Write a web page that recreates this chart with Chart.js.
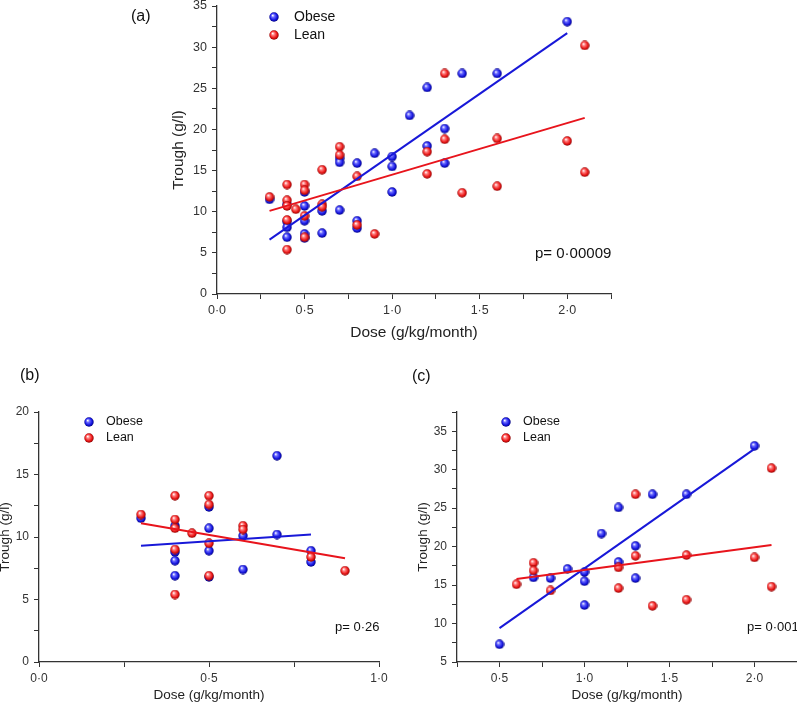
<!DOCTYPE html>
<html>
<head>
<meta charset="utf-8">
<script src="https://cdn.jsdelivr.net/npm/chart.js@4.4.1/dist/chart.umd.min.js"></script>
<style>
  html, body { margin: 0; padding: 0; background: #fff; overflow: hidden; width: 797px; height: 703px; }
  canvas { position: absolute; }
</style>
</head>
<body>
<canvas id="chartA" width="500" height="345" style="left:120px;top:0px"></canvas>
<canvas id="chartB" width="410" height="345" style="left:-10px;top:365px"></canvas>
<canvas id="chartC" width="410" height="345" style="left:400px;top:365px"></canvas>
<script>
// panel (b) - obese / lean, dose (g/kg/month) vs trough (g/l)
const bObeseDose   = [0.3, 0.4, 0.4, 0.4, 0.4, 0.5, 0.5, 0.5, 0.5, 0.6, 0.6, 0.7, 0.7, 0.8, 0.8];
const bObeseTrough = [11.5, 10.9, 8.8, 8.1, 6.9, 12.4, 10.7, 8.9, 6.8, 10.1, 7.4, 16.5, 10.2, 8.9, 8.0];
const bLeanDose    = [0.3, 0.4, 0.4, 0.4, 0.4, 0.4, 0.45, 0.5, 0.5, 0.5, 0.5, 0.6, 0.6, 0.8, 0.9];
const bLeanTrough  = [11.8, 13.3, 11.4, 10.7, 9.0, 5.4, 10.3, 13.3, 12.6, 9.5, 6.9, 10.9, 10.6, 8.4, 7.3];

// panel (c)
const cObeseDose   = [0.5, 0.7, 0.8, 0.9, 1.0, 1.0, 1.0, 1.1, 1.2, 1.2, 1.3, 1.3, 1.4, 1.6, 2.0];
const cObeseTrough = [7.3, 16.0, 15.9, 17.1, 16.7, 15.5, 12.4, 21.7, 25.1, 18.0, 20.1, 15.9, 26.8, 26.8, 33.1];
const cLeanDose    = [0.6, 0.7, 0.7, 0.8, 1.2, 1.2, 1.3, 1.3, 1.4, 1.6, 1.6, 2.0, 2.1, 2.1];
const cLeanTrough  = [15.1, 17.9, 16.9, 14.3, 17.3, 14.6, 26.8, 18.8, 12.3, 18.9, 13.1, 18.6, 30.2, 14.8];

// fitted lines, end points [dose, trough]
const aObeseFit = [[0.3, 6.6], [2.0, 31.7]];
const aLeanFit  = [[0.3, 10.1], [2.1, 21.4]];
const bObeseFit = [[0.3, 9.3], [0.8, 10.2]];
const bLeanFit  = [[0.3, 11.1], [0.9, 8.3]];
const cObeseFit = [[0.5, 9.4], [2.0, 32.7]];
const cLeanFit  = [[0.6, 15.8], [2.1, 20.2]];

// labelled ticks
const doseLabelsA  = [0, 0.5, 1, 1.5, 2];
const doseLabelsB  = [0, 0.5, 1];
const doseLabelsC  = [0.5, 1, 1.5, 2];
const troughLabelsA = [0, 5, 10, 15, 20, 25, 30, 35];
const troughLabelsB = [0, 5, 10, 15, 20];
const troughLabelsC = [5, 10, 15, 20, 25, 30, 35];

const seriesNames = ['Obese', 'Lean'];

const FONT = '"Liberation Sans", Arial, Helvetica, sans-serif';
const BLUE = '#1818d8';
const RED = '#e8141c';

function makeBall(light, mid, dark) {
  const c = document.createElement('canvas');
  c.width = c.height = 10;
  const g = c.getContext('2d');
  const grad = g.createRadialGradient(3.6, 3.3, 0.2, 5, 5, 5);
  grad.addColorStop(0, '#ffffff');
  grad.addColorStop(0.3, light);
  grad.addColorStop(0.7, mid);
  grad.addColorStop(1, dark);
  g.fillStyle = grad;
  g.beginPath();
  g.arc(5, 5, 4.7, 0, Math.PI * 2);
  g.fill();
  return c;
}
const blueBall = makeBall('#6a6aff', '#1414e0', '#00006e');
const redBall = makeBall('#ff7a7a', '#ea1414', '#7a0000');
const balls = [blueBall, redBall];

function pts(xs, ys) {
  return xs.map((x, i) => ({ x: x, y: ys[i] }));
}
function fitPts(f) {
  return f.map(p => ({ x: p[0], y: p[1] }));
}
function dot(v) {
  return v.toFixed(1).replace('.', '\u00B7');
}
function has(list, v) {
  return list.some(l => Math.abs(l - v) < 1e-6);
}

const annotPlugin = {
  id: 'annot',
  afterDraw(chart, args, o) {
    const ctx = chart.ctx;
    ctx.save();
    ctx.fillStyle = '#111';
    ctx.textBaseline = 'middle';
    ctx.textAlign = 'left';
    ctx.font = o.panelSize + 'px ' + FONT;
    ctx.fillText(o.panel, o.panelX, o.panelY);
    ctx.font = o.legSize + 'px ' + FONT;
    seriesNames.forEach((name, i) => {
      const y = o.legY + i * o.legGap;
      ctx.drawImage(balls[i], o.legX - 5, y - 5);
      ctx.fillText(name, o.legX + o.legText, y);
    });
    ctx.font = o.pSize + 'px ' + FONT;
    ctx.fillText(o.pText, o.pX, o.pY);
    ctx.restore();
  }
};

function makeChart(id, c) {
  return new Chart(document.getElementById(id), {
    type: 'scatter',
    data: {
      datasets: [
        { data: fitPts(c.leanFit), showLine: true, borderColor: RED, borderWidth: 2, pointRadius: 0 },
        { data: fitPts(c.obeseFit), showLine: true, borderColor: BLUE, borderWidth: 2, pointRadius: 0 },
        { data: c.lean, pointStyle: redBall, pointRadius: 5 },
        { data: c.obese, pointStyle: blueBall, pointRadius: 5 }
      ]
    },
    options: {
      responsive: false,
      animation: false,
      layout: { padding: { top: c.padTop, right: c.padRight, left: 0, bottom: 0 } },
      plugins: {
        legend: { display: false },
        tooltip: { enabled: false },
        annot: c.annot
      },
      scales: {
        x: {
          type: 'linear',
          min: c.xMin,
          max: c.xMax,
          ticks: {
            stepSize: 0.25,
            autoSkip: false,
            maxRotation: 0,
            padding: 4,
            color: '#333',
            font: { family: FONT, size: c.tickSize },
            callback: v => has(c.xLabels, v) ? dot(v) : ''
          },
          grid: { drawOnChartArea: false, tickLength: 5, color: '#333', tickWidth: 1 },
          border: { color: '#333', width: 1.3 },
          title: {
            display: true,
            text: 'Dose (g/kg/month)',
            color: '#222',
            font: { family: FONT, size: c.titleSize },
            padding: { top: 0, bottom: c.xTitlePad }
          },
          afterFit: s => { s.height = c.xH; s.paddingLeft = 0; s.paddingRight = 0; }
        },
        y: {
          type: 'linear',
          min: c.yMin,
          max: c.yMax,
          ticks: {
            stepSize: 2.5,
            autoSkip: false,
            padding: 5,
            color: '#333',
            font: { family: FONT, size: c.tickSize },
            callback: v => has(c.yLabels, v) ? String(v) : ''
          },
          grid: { drawOnChartArea: false, tickLength: 5, color: '#333', tickWidth: 1 },
          border: { color: '#333', width: 1.3 },
          title: {
            display: true,
            text: 'Trough (g/l)',
            color: '#222',
            font: { family: FONT, size: c.titleSize },
            padding: { top: c.yTitlePad, bottom: 0 }
          },
          afterFit: s => { s.width = c.yW; s.paddingTop = 0; s.paddingBottom = 0; }
        }
      }
    },
    plugins: [annotPlugin]
  });
}

makeChart('chartA', {
  obese: pts(bObeseDose.concat(cObeseDose), bObeseTrough.concat(cObeseTrough)),
  lean: pts(bLeanDose.concat(cLeanDose), bLeanTrough.concat(cLeanTrough)),
  obeseFit: aObeseFit, leanFit: aLeanFit,
  xMin: 0, xMax: 2.25, yMin: 0, yMax: 35,
  xLabels: doseLabelsA, yLabels: troughLabelsA,
  padTop: 5, padRight: 9, yW: 97, xH: 51,
  tickSize: 12.5, titleSize: 15.5, yTitlePad: 49, xTitlePad: 3,
  annot: { panel: '(a)', panelX: 11, panelY: 17, panelSize: 16,
           legX: 154, legY: 17, legGap: 18, legText: 20, legSize: 14,
           pText: 'p= 0\u00B700009', pX: 415, pY: 254, pSize: 15 }
});

makeChart('chartB', {
  obese: pts(bObeseDose, bObeseTrough),
  lean: pts(bLeanDose, bLeanTrough),
  obeseFit: bObeseFit, leanFit: bLeanFit,
  xMin: 0, xMax: 1, yMin: 0, yMax: 20,
  xLabels: doseLabelsB, yLabels: troughLabelsB,
  padTop: 47, padRight: 21, yW: 49, xH: 48,
  tickSize: 12, titleSize: 13.5, yTitlePad: 7, xTitlePad: 7,
  annot: { panel: '(b)', panelX: 30, panelY: 11, panelSize: 16,
           legX: 99, legY: 57, legGap: 16, legText: 17, legSize: 12.5,
           pText: 'p= 0\u00B726', pX: 345, pY: 262, pSize: 13 }
});

makeChart('chartC', {
  obese: pts(cObeseDose, cObeseTrough),
  lean: pts(cLeanDose, cLeanTrough),
  obeseFit: cObeseFit, leanFit: cLeanFit,
  xMin: 0.25, xMax: 2.25, yMin: 5, yMax: 37.5,
  xLabels: doseLabelsC, yLabels: troughLabelsC,
  padTop: 47, padRight: 13, yW: 57, xH: 48,
  tickSize: 12, titleSize: 13.5, yTitlePad: 15, xTitlePad: 7,
  annot: { panel: '(c)', panelX: 12, panelY: 12, panelSize: 16,
           legX: 106, legY: 57, legGap: 16, legText: 17, legSize: 12.5,
           pText: 'p= 0\u00B7001', pX: 347, pY: 262, pSize: 13 }
});
</script>
</body>
</html>
